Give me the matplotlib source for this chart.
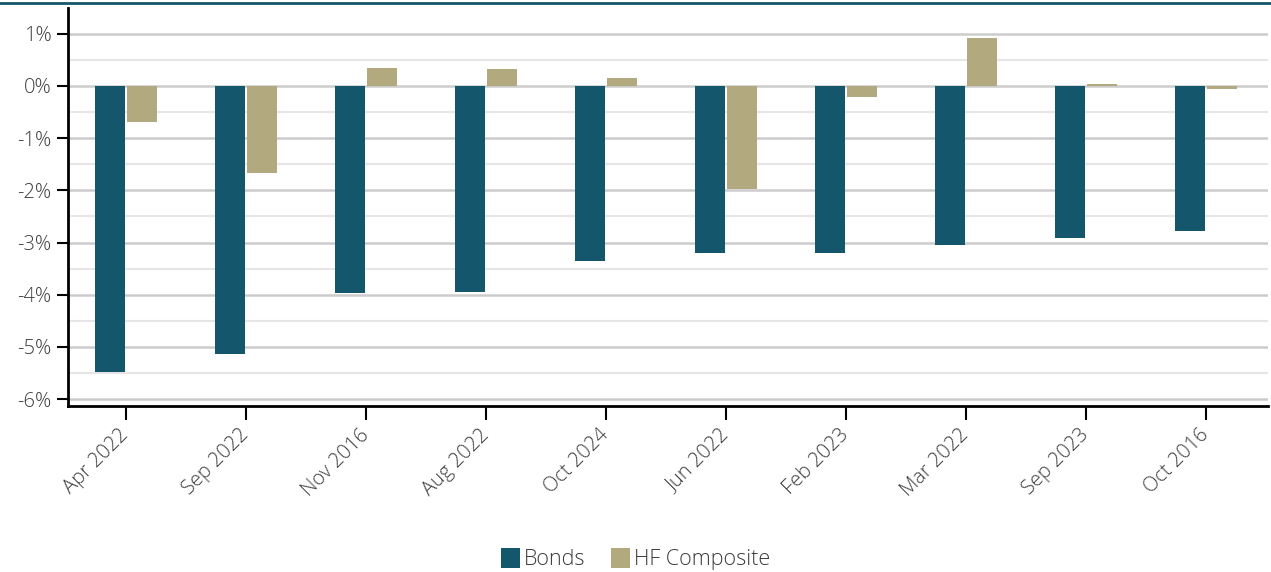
import numpy as np
import matplotlib.pyplot as plt
from matplotlib.lines import Line2D
from matplotlib.ticker import MultipleLocator, FuncFormatter

plt.rcParams['font.family'] = ['Open Sans', 'DejaVu Sans']
plt.rcParams['font.weight'] = 'light'

categories = ['Apr 2022', 'Sep 2022', 'Nov 2016', 'Aug 2022', 'Oct 2024',
              'Jun 2022', 'Feb 2023', 'Mar 2022', 'Sep 2023', 'Oct 2016']
bonds = [-5.48, -5.13, -3.97, -3.95, -3.35, -3.20, -3.20, -3.05, -2.91, -2.78]
hf = [-0.69, -1.67, 0.34, 0.33, 0.15, -1.97, -0.21, 0.92, 0.04, -0.06]

c_bonds = '#14566b'
c_hf = '#b3a97f'
txt = '#3c3c3c'

fig = plt.figure(figsize=(12.71, 5.72), dpi=100)
ax = fig.add_axes([68/1271, 1-406/572, 1200/1271, 398/572])

x = np.arange(len(categories))
w = 0.25
ax.bar(x - 0.133, bonds, w, color=c_bonds, label='Bonds', zorder=3)
ax.bar(x + 0.133, hf, w, color=c_hf, label='HF Composite', zorder=3)

ax.set_xlim(-0.483, 9.517)
ax.set_ylim(-6.13, 1.49)
ax.yaxis.set_major_locator(MultipleLocator(1))
ax.yaxis.set_minor_locator(MultipleLocator(0.5))
ax.yaxis.set_major_formatter(FuncFormatter(lambda v, p: '%d%%' % round(v)))
ax.grid(axis='y', which='major', color='#cccccc', lw=1.8, zorder=0)
ax.grid(axis='y', which='minor', color='#e6e6e6', lw=1.5, zorder=0)
ax.tick_params(axis='y', which='minor', length=0)
ax.tick_params(axis='y', which='major', length=8, width=1.5, color='black',
               labelsize=14.5, labelcolor=txt, pad=4)
ax.set_xticks(x)
ax.set_xticklabels(categories, rotation=45, ha='right', va='center',
                   rotation_mode='anchor')
ax.tick_params(axis='x', length=10, width=1.5, color='black',
               labelsize=14.5, labelcolor=txt, pad=9)

for s in ['top', 'right']:
    ax.spines[s].set_visible(False)
for s in ['left', 'bottom']:
    ax.spines[s].set_linewidth(2)

fig.add_artist(Line2D([0, 1], [1-3/572, 1-3/572], color=c_bonds, lw=2))

fig.legend(loc='center', bbox_to_anchor=(0.5, 1-559/572), ncol=2, frameon=False,
           fontsize=15.5, labelcolor=txt, handlelength=0.9, handleheight=1.1,
           handletextpad=0.15, columnspacing=1.2)

fig.savefig('out.png', dpi=100)
